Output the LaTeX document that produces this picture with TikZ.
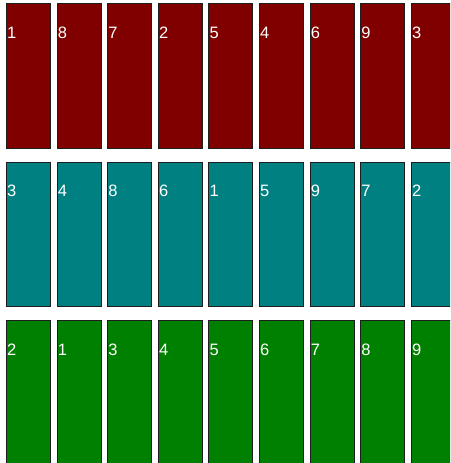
\documentclass[tikz,border=0pt]{standalone}
\usepackage{fontspec}
\setmainfont{Liberation Sans}
\usetikzlibrary{positioning}
\definecolor{barred}{HTML}{800000}
\definecolor{barteal}{HTML}{008080}
\definecolor{bargreen}{HTML}{008000}
\definecolor{baredge}{HTML}{1E1E1E}

\begin{document}
\begin{tikzpicture}[x=1pt,y=-1pt,
  bar/.style={draw=baredge, line width=0.8pt, minimum width=44pt, minimum height=144.5pt,
    inner sep=0pt, anchor=north west},
  num/.style={text=white, font=\fontsize{16.5}{19}\selectfont, inner sep=0pt, anchor=west}]
\useasboundingbox (0,0) rectangle (450,463);
\clip (0,0) rectangle (450,463);
\def\pitchx{50.6}
\def\pitchy{158.5}

\foreach \r/\barc/\vals in {0/barred/{1,8,7,2,5,4,6,9,3},
                            1/barteal/{3,4,8,6,1,5,9,7,2},
                            2/bargreen/{2,1,3,4,5,6,7,8,9}}{
  \foreach \n [count=\c from 0] in \vals{
    \node[bar, fill=\barc] (bar-\r-\c) at ({6+\c*\pitchx},{3+\r*\pitchy}) {};
    \node[num] (num-\r-\c) at ([shift={(1,29.5)}]bar-\r-\c.north west) {\n};
  }
}
\end{tikzpicture}
\end{document}
